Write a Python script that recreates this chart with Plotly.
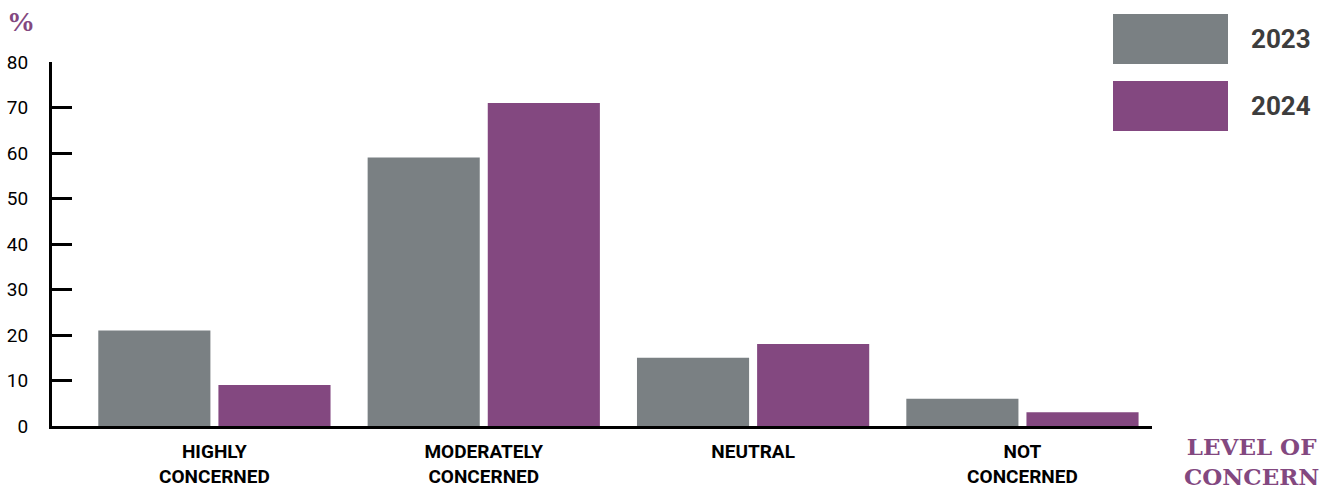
import plotly.graph_objects as go

categories = ["HIGHLY<br>CONCERNED", "MODERATELY<br>CONCERNED", "NEUTRAL", "NOT<br>CONCERNED"]
series_names = ["2023", "2024"]
values_2023 = [21, 59, 15, 6]
values_2024 = [9, 71, 18, 3]
y_ticks = [0, 10, 20, 30, 40, 50, 60, 70, 80]

GRAY = "#7a8083"
PURPLE = "#834880"

fig = go.Figure()
fig.add_trace(go.Bar(x=categories, y=values_2023, name=series_names[0], marker_color=GRAY, marker_line_width=0))
fig.add_trace(go.Bar(x=categories, y=values_2024, name=series_names[1], marker_color=PURPLE, marker_line_width=0))

fig.update_layout(
    width=1337, height=490,
    margin=dict(l=52, r=185, t=62, b=64, autoexpand=False),
    paper_bgcolor="white", plot_bgcolor="white",
    barmode="group", bargap=0.108, bargroupgap=0.0667,
    showlegend=False,
    font=dict(family="Roboto", color="black"),
)
fig.update_xaxes(
    range=[-0.603, 3.481], showline=True, linecolor="black", linewidth=3,
    ticks="", showgrid=False, zeroline=False, automargin=False,
    tickmode="array", tickvals=categories, ticktext=[f"<b>{c}</b>" for c in categories],
    tickfont=dict(family="Roboto", size=19, color="black"),
    ticklabelstandoff=6,
)
fig.update_yaxes(
    range=[0, 80], tickvals=y_ticks, showline=True, linecolor="black", linewidth=3,
    ticks="inside", ticklen=20, tickwidth=3, tickcolor="black",
    showgrid=False, zeroline=False, automargin=False,
    tickfont=dict(family="Roboto", size=19, color="black"),
    ticklabelstandoff=17,
)

# legend swatches
legend_items = [(series_names[0], GRAY, 14), (series_names[1], PURPLE, 81)]
for name, col, top in legend_items:
    fig.add_shape(type="rect", xref="paper", yref="paper",
                  x0=(1113 - 52) / 1100, x1=(1228 - 52) / 1100,
                  y0=(426 - top - 50) / 364, y1=(426 - top) / 364,
                  fillcolor=col, line_width=0)
    fig.add_annotation(xref="paper", yref="paper", x=(1249 - 52) / 1100, y=(426 - top - 25) / 364,
                       text=f"<b>{name}</b>", showarrow=False, xanchor="left", yanchor="middle",
                       font=dict(family="Roboto", size=26, color="#3d3d3d"))

fig.add_annotation(xref="paper", yref="paper", x=(5 - 52) / 1100, y=(426 - 22) / 364,
                   text="<b>%</b>", showarrow=False, xanchor="left", yanchor="middle",
                   font=dict(family="Liberation Serif", size=28, color=PURPLE))
fig.add_annotation(xref="paper", yref="paper", x=(1251 - 52) / 1100, y=(426 - 461) / 364,
                   text="<b>LEVEL OF<br>CONCERN</b>", showarrow=False, xanchor="center", yanchor="middle",
                   font=dict(family="DejaVu Serif", size=23, color=PURPLE))

fig.write_html("out.html")
